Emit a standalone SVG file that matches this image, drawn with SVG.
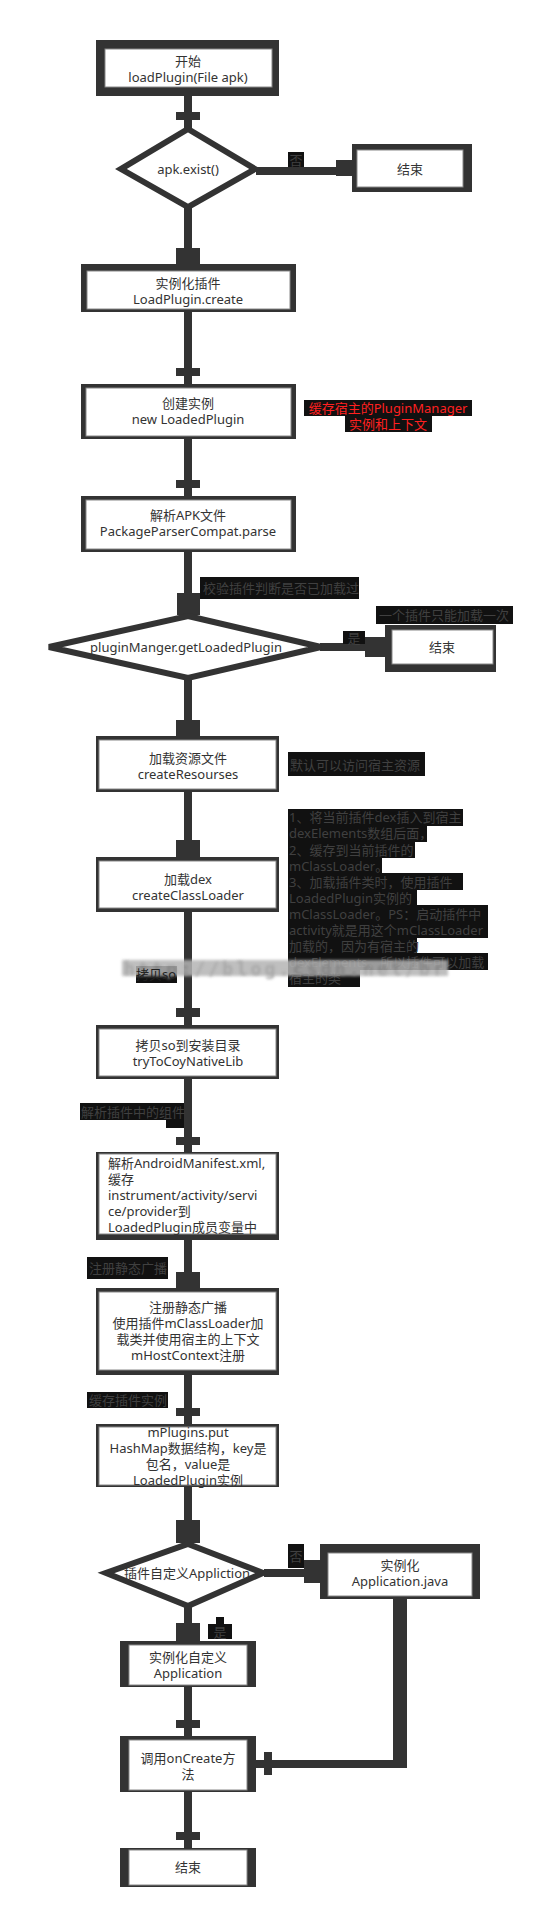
<svg xmlns="http://www.w3.org/2000/svg" width="554" height="1918" viewBox="0 0 554 1918">
<defs>
<style>
.t{font-family:"Noto Sans","Noto Sans CJK SC",sans-serif;font-size:13px;fill:#333;text-anchor:middle;dominant-baseline:central}
.tl{font-family:"Noto Sans","Noto Sans CJK SC",sans-serif;font-size:13px;fill:#333;dominant-baseline:central}
.o{fill:#333}
.i{fill:#fff;stroke:#888;stroke-width:1}
.d{fill:#fff;stroke:#333;stroke-width:6;stroke-linejoin:miter}
.ln{stroke:#333;stroke-width:8;fill:none}
.blk{fill:#333}
.ab{fill:#111}
.at{font-family:"Noto Sans","Noto Sans CJK SC",sans-serif;font-size:13px;fill:#404040;dominant-baseline:central}
.atc{font-family:"Noto Sans","Noto Sans CJK SC",sans-serif;font-size:13px;fill:#404040;dominant-baseline:central;text-anchor:middle}
.red{font-family:"Noto Sans","Noto Sans CJK SC",sans-serif;font-size:13px;fill:#ff2020;dominant-baseline:central;text-anchor:middle}
</style>
<filter id="blur" x="-5%" y="-50%" width="110%" height="200%"><feGaussianBlur stdDeviation="1.6"/></filter>
</defs>
<rect width="554" height="1918" fill="#fff"/>

<g id="connectors">
<line class="ln" x1="188" y1="96" x2="188" y2="128"/>
<rect class="blk" x="176" y="112" width="24" height="8"/>
<line class="ln" x1="256" y1="171" x2="352" y2="171"/>
<rect class="blk" x="336" y="160" width="17" height="16"/>
<line class="ln" x1="188" y1="208" x2="188" y2="264"/>
<rect class="blk" x="176" y="248" width="24" height="16"/>
<line class="ln" x1="188" y1="312" x2="188" y2="384"/>
<rect class="blk" x="176" y="368" width="24" height="8"/>
<line class="ln" x1="188" y1="439" x2="188" y2="496"/>
<rect class="blk" x="176" y="480" width="24" height="8"/>
<line class="ln" x1="188" y1="552" x2="188" y2="615"/>
<rect class="blk" x="177" y="593" width="23" height="22"/>
<line class="ln" x1="320" y1="647" x2="385" y2="647"/>
<rect class="blk" x="365" y="637" width="20" height="20"/>
<line class="ln" x1="188" y1="679" x2="188" y2="736"/>
<rect class="blk" x="176" y="720" width="24" height="16"/>
<line class="ln" x1="188" y1="792" x2="188" y2="857"/>
<rect class="blk" x="176" y="840" width="24" height="17"/>
<line class="ln" x1="188" y1="912" x2="188" y2="1025"/>
<rect class="blk" x="176" y="1008" width="24" height="9"/>
<line class="ln" x1="188" y1="1079" x2="188" y2="1152"/>
<rect class="blk" x="176" y="1137" width="24" height="8"/>
<line class="ln" x1="188" y1="1240" x2="188" y2="1288"/>
<rect class="blk" x="176" y="1272" width="24" height="16"/>
<line class="ln" x1="188" y1="1375" x2="188" y2="1424"/>
<rect class="blk" x="176" y="1408" width="24" height="8"/>
<line class="ln" x1="188" y1="1487" x2="188" y2="1543"/>
<rect class="blk" x="176" y="1520" width="24" height="23"/>
<line class="ln" x1="264" y1="1573" x2="320" y2="1573"/>
<rect class="blk" x="304" y="1560" width="16" height="23"/>
<line class="ln" x1="188" y1="1607" x2="188" y2="1641"/>
<rect class="blk" x="176" y="1623" width="24" height="18"/>
<line class="ln" x1="188" y1="1687" x2="188" y2="1737"/>
<rect class="blk" x="176" y="1720" width="24" height="8"/>
<line stroke="#333" stroke-width="14" x1="400" y1="1599" x2="400" y2="1768"/>
<line class="ln" x1="407" y1="1764" x2="256" y2="1764"/>
<rect class="blk" x="264" y="1752" width="8" height="23"/>
<line class="ln" x1="188" y1="1792" x2="188" y2="1848"/>
<rect class="blk" x="176" y="1832" width="24" height="8"/>
</g>

<g id="labels">
<rect class="ab" x="288" y="152" width="16" height="15"/>
<text class="atc" x="296" y="160">否</text>
<rect class="ab" x="304" y="400" width="168" height="16"/>
<text class="red" x="388" y="408">缓存宿主的PluginManager</text>
<rect class="ab" x="345" y="416" width="87" height="16"/>
<text class="red" x="388" y="424">实例和上下文</text>
<rect class="ab" x="200" y="577" width="159" height="22"/>
<text class="at" x="203" y="588">校验插件判断是否已加载过</text>
<rect class="ab" x="376" y="606" width="137" height="18"/>
<text class="atc" x="444" y="615">一个插件只能加载一次</text>
<rect class="ab" x="343" y="631" width="22" height="13"/>
<text class="atc" x="354" y="638" font-size="11">是</text>
<rect class="ab" x="288" y="752" width="137" height="24"/>
<text class="at" x="290" y="765">默认可以访问宿主资源</text>
<g id="dex-note">
<rect class="ab" x="288" y="809" width="175" height="17"/>
<rect class="ab" x="288" y="825" width="139" height="17"/>
<rect class="ab" x="288" y="841" width="127" height="17"/>
<rect class="ab" x="288" y="857" width="94" height="17"/>
<rect class="ab" x="288" y="873" width="175" height="17"/>
<rect class="ab" x="288" y="889" width="129" height="17"/>
<rect class="ab" x="288" y="905" width="200" height="17"/>
<rect class="ab" x="288" y="921" width="200" height="17"/>
<rect class="ab" x="288" y="937" width="129" height="17"/>
<rect class="ab" x="288" y="953" width="200" height="17"/>
<rect class="ab" x="288" y="969" width="72" height="18"/>
<text class="at" x="289" y="817">1、将当前插件dex插入到宿主</text>
<text class="at" x="289" y="833">dexElements数组后面，</text>
<text class="at" x="289" y="850">2、缓存到当前插件的</text>
<text class="at" x="289" y="866">mClassLoader。</text>
<text class="at" x="289" y="882">3、加载插件类时，使用插件</text>
<text class="at" x="289" y="898">LoadedPlugin实例的</text>
<text class="at" x="289" y="914">mClassLoader。PS：启动插件中</text>
<text class="at" x="289" y="930">activity就是用这个mClassLoader</text>
<text class="at" x="289" y="946">加载的，因为有宿主的</text>
<text class="at" x="289" y="962">dexElements，所以插件可以加载</text>
<text class="at" x="289" y="978">宿主的类</text>
</g>
<rect class="ab" x="136" y="966" width="41" height="17"/>
<g id="watermark" opacity="0.85">
<rect x="122" y="960" width="326" height="16" fill="#b4b4b4" filter="url(#blur)"/>
<text x="124" y="975" font-family="'DejaVu Sans Mono',monospace" font-size="18" font-weight="bold" fill="#999" filter="url(#blur)" textLength="320">http://blog.csdn.net/br</text>
</g>
<text class="atc" x="156" y="974" style="fill:#222">拷贝so</text>
<rect class="ab" x="80" y="1103" width="104" height="17"/>
<rect class="ab" x="166" y="1118" width="18" height="10"/>
<text class="at" x="81" y="1112">解析插件中的组件</text>
<rect class="ab" x="87" y="1257" width="81" height="22"/>
<text class="at" x="89" y="1268">注册静态广播</text>
<rect class="ab" x="87" y="1392" width="81" height="16"/>
<text class="at" x="89" y="1400">缓存插件实例</text>
<rect class="ab" x="288" y="1544" width="16" height="24"/>
<text class="atc" x="296" y="1556">否</text>
<rect class="ab" x="216" y="1617" width="8" height="8"/>
<rect class="ab" x="208" y="1624" width="24" height="15"/>
<text class="atc" x="220" y="1632">是</text>
</g>

<g id="start">
<rect class="o" x="96" y="40" width="183" height="56"/>
<rect class="i" x="105" y="49" width="167" height="38"/>
<text class="t" x="188" y="61">开始</text>
<text class="t" x="188" y="77">loadPlugin(File apk)</text>
</g>
<g id="apk-exist">
<polygon class="d" points="188,129 255,169 188,207 121,169"/>
<text class="t" x="188" y="169">apk.exist()</text>
</g>
<g id="end1">
<rect class="o" x="352" y="144" width="120" height="48"/>
<rect class="i" x="357" y="150" width="106" height="37"/>
<text class="t" x="410" y="169">结束</text>
</g>
<g id="create">
<rect class="o" x="81" y="264" width="215" height="48"/>
<rect class="i" x="87" y="271" width="203" height="38"/>
<text class="t" x="188" y="283">实例化插件</text>
<text class="t" x="188" y="299">LoadPlugin.create</text>
</g>
<g id="new-loaded">
<rect class="o" x="81" y="384" width="215" height="55"/>
<rect class="i" x="86" y="388" width="205" height="48"/>
<text class="t" x="188" y="403">创建实例</text>
<text class="t" x="188" y="419">new LoadedPlugin</text>
</g>
<g id="parse">
<rect class="o" x="81" y="496" width="215" height="56"/>
<rect class="i" x="86" y="500" width="205" height="49"/>
<text class="t" x="188" y="515">解析APK文件</text>
<text class="t" x="188" y="531">PackageParserCompat.parse</text>
</g>
<g id="get-loaded">
<polygon class="d" points="188,616 321,647 188,678 49,647"/>
<text class="t" x="186" y="647">pluginManger.getLoadedPlugin</text>
</g>
<g id="end2">
<rect class="o" x="385" y="625" width="111" height="47"/>
<rect class="i" x="392" y="630" width="101" height="34"/>
<text class="t" x="442" y="647">结束</text>
</g>
<g id="resources">
<rect class="o" x="96" y="736" width="183" height="56"/>
<rect class="i" x="99" y="740" width="177" height="49"/>
<text class="t" x="188" y="758">加载资源文件</text>
<text class="t" x="188" y="774">createResourses</text>
</g>
<g id="dex">
<rect class="o" x="96" y="857" width="183" height="55"/>
<rect class="i" x="99" y="861" width="177" height="47"/>
<text class="t" x="188" y="879">加载dex</text>
<text class="t" x="188" y="895">createClassLoader</text>
</g>
<g id="native-lib">
<rect class="o" x="96" y="1025" width="183" height="54"/>
<rect class="i" x="99" y="1029" width="177" height="47"/>
<text class="t" x="188" y="1045">拷贝so到安装目录</text>
<text class="t" x="188" y="1061">tryToCoyNativeLib</text>
</g>
<g id="manifest">
<rect class="o" x="96" y="1152" width="183" height="88"/>
<rect class="i" x="99" y="1154" width="177" height="80"/>
<text class="tl" x="108" y="1163">解析AndroidManifest.xml,</text>
<text class="tl" x="108" y="1179">缓存</text>
<text class="tl" x="108" y="1195">instrument/activity/servi</text>
<text class="tl" x="108" y="1211">ce/provider到</text>
<text class="tl" x="108" y="1227">LoadedPlugin成员变量中</text>
</g>
<g id="receivers">
<rect class="o" x="96" y="1288" width="183" height="87"/>
<rect class="i" x="99" y="1292" width="177" height="78"/>
<text class="t" x="188" y="1307">注册静态广播</text>
<text class="t" x="188" y="1323">使用插件mClassLoader加</text>
<text class="t" x="188" y="1339">载类并使用宿主的上下文</text>
<text class="t" x="188" y="1355">mHostContext注册</text>
</g>
<g id="mplugins">
<rect class="o" x="96" y="1424" width="183" height="63"/>
<rect class="i" x="99" y="1427" width="177" height="58"/>
<text class="t" x="188" y="1432">mPlugins.put</text>
<text class="t" x="188" y="1448">HashMap数据结构，key是</text>
<text class="t" x="188" y="1464">包名，value是</text>
<text class="t" x="188" y="1480">LoadedPlugin实例</text>
</g>
<g id="custom-app">
<polygon class="d" points="188,1544 263,1573 188,1606 106,1573"/>
<text class="t" x="187" y="1573">插件自定义Appliction</text>
</g>
<g id="app-java">
<rect class="o" x="320" y="1544" width="160" height="55"/>
<rect class="i" x="328" y="1553" width="144" height="43"/>
<text class="t" x="400" y="1565">实例化</text>
<text class="t" x="400" y="1581">Application.java</text>
</g>
<g id="new-app">
<rect class="o" x="120" y="1641" width="136" height="46"/>
<rect class="i" x="129" y="1645" width="118" height="40"/>
<text class="t" x="188" y="1657">实例化自定义</text>
<text class="t" x="188" y="1673">Application</text>
</g>
<g id="on-create">
<rect class="o" x="120" y="1736" width="136" height="56"/>
<rect class="i" x="129" y="1740" width="118" height="50"/>
<text class="t" x="188" y="1758">调用onCreate方</text>
<text class="t" x="188" y="1774">法</text>
</g>
<g id="end3">
<rect class="o" x="120" y="1848" width="136" height="39"/>
<rect class="i" x="129" y="1850" width="118" height="35"/>
<text class="t" x="188" y="1867">结束</text>
</g>
</svg>
